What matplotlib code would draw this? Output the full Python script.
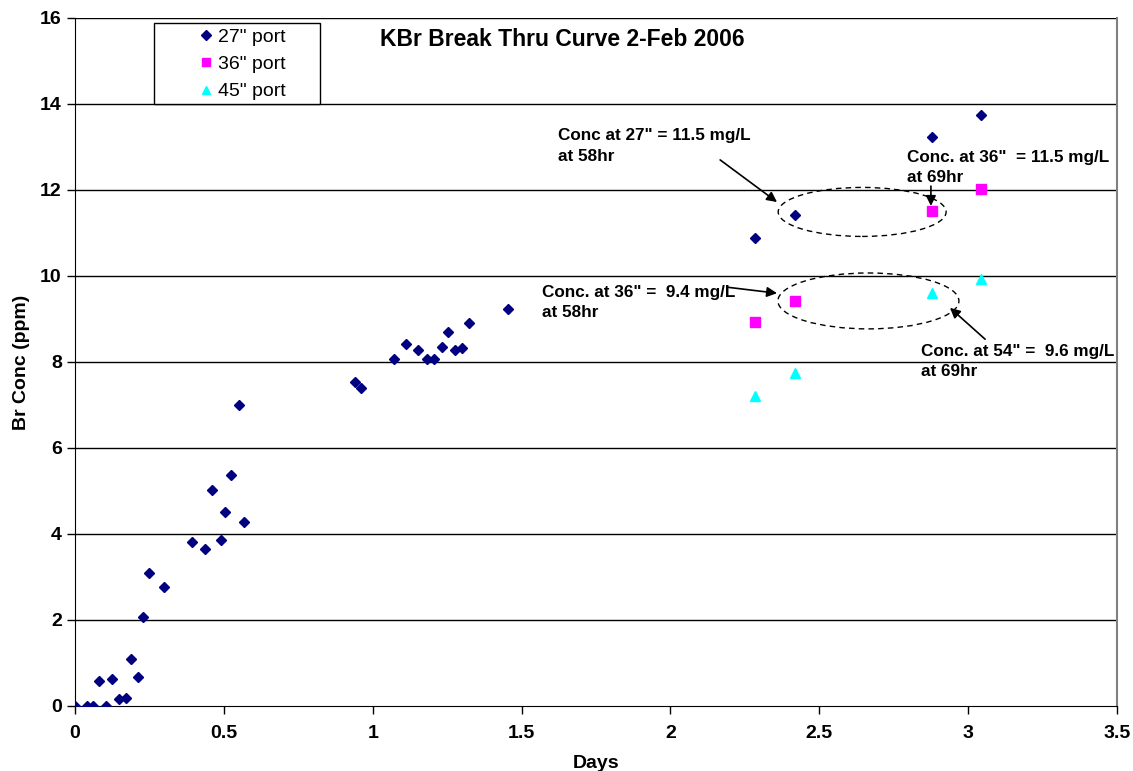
import matplotlib
matplotlib.use("Agg")
import matplotlib.pyplot as plt
from matplotlib.patches import Ellipse, Rectangle

plt.rcParams['font.family'] = ['Liberation Sans', 'DejaVu Sans']

# 27" port
days_27 = [0.0, 0.039, 0.061, 0.082, 0.103, 0.125, 0.147, 0.172, 0.188, 0.21, 0.23,
           0.249, 0.30, 0.394, 0.438, 0.46, 0.489, 0.503, 0.524, 0.551, 0.569,
           0.939, 0.959, 1.073, 1.113, 1.153, 1.181, 1.207, 1.234, 1.254, 1.276,
           1.301, 1.322, 1.455, 2.285, 2.42, 2.879, 3.043]
conc_27 = [0.0, 0.0, 0.0, 0.57, 0.0, 0.62, 0.17, 0.18, 1.10, 0.67, 2.08,
           3.10, 2.77, 3.82, 3.66, 5.02, 3.86, 4.51, 5.38, 7.0, 4.29,
           7.54, 7.40, 8.08, 8.42, 8.29, 8.06, 8.08, 8.36, 8.69, 8.28,
           8.33, 8.91, 9.23, 10.88, 11.43, 13.24, 13.74]
# 36" port
days_36 = [2.285, 2.42, 2.879, 3.043]
conc_36 = [8.92, 9.42, 11.50, 12.02]
# 45" port
days_45 = [2.285, 2.42, 2.879, 3.043]
conc_45 = [7.22, 7.74, 9.61, 9.94]

series_labels = ['27" port', '36" port', '45" port']
x_ticks = [0, 0.5, 1, 1.5, 2, 2.5, 3, 3.5]
x_ticklabels = ['0', '0.5', '1', '1.5', '2', '2.5', '3', '3.5']
y_ticks = [0, 2, 4, 6, 8, 10, 12, 14, 16]

fig = plt.figure(figsize=(11.33, 7.71), dpi=100)
ax = fig.add_axes([75/1133, 1-706/771, (1117-75)/1133, (706-18)/771])

for y in y_ticks[1:]:
    ax.axhline(y, color='black', lw=1, zorder=1)

ax.plot(days_27, conc_27, linestyle='none', marker='D', markersize=5.5,
        color='#000080', label=series_labels[0], zorder=3)
ax.plot(days_36, conc_36, linestyle='none', marker='s', markersize=6.5,
        color='#FF00FF', label=series_labels[1], zorder=3)
ax.plot(days_45, conc_45, linestyle='none', marker='^', markersize=7,
        color='#00FFFF', label=series_labels[2], zorder=3)

ax.set_xlim(0, 3.5)
ax.set_ylim(0, 16)
ax.set_xticks(x_ticks)
ax.set_xticklabels(x_ticklabels)
ax.set_yticks(y_ticks)
ax.tick_params(axis='both', direction='out', length=6, width=1, color='black',
               labelsize=14)
ax.tick_params(axis='x', pad=8)
for lab in ax.get_xticklabels() + ax.get_yticklabels():
    lab.set_fontweight('bold')
ax.spines['left'].set_color('black')
ax.spines['bottom'].set_color('black')
ax.spines['top'].set_visible(False)
ax.spines['right'].set_color('#808080')
ax.spines['right'].set_linewidth(1.5)

ax.set_xlabel('Days', fontsize=14, fontweight='bold', labelpad=9)
ax.set_ylabel('Br Conc (ppm)', fontsize=14, fontweight='bold', labelpad=7)

ax.text(0.468, 0.969, 'KBr Break Thru Curve 2-Feb 2006', transform=ax.transAxes,
        ha='center', va='center', fontsize=16.5, fontweight='bold')

# legend with a fixed-size frame
bx0, by0 = (154-75)/1042, (706-104)/688
bw, bh = 166/1042, 81/688
ax.add_patch(Rectangle((bx0, by0), bw, bh, transform=ax.transAxes, fill=True,
                       fc='white', ec='black', lw=1, zorder=4))
leg = ax.legend(loc='center', bbox_to_anchor=(bx0 + bw/2 + 0.004, by0 + bh/2 - 0.001),
                fontsize=14, frameon=False, handletextpad=0.1, borderpad=0,
                labelspacing=0.5, handlelength=1.0, markerscale=0.85,
                borderaxespad=0)
leg.set_zorder(5)

# dashed ellipses
ax.add_patch(Ellipse((2.644, 11.49), 0.564, 1.14, fill=False, ls=(0, (4, 3)),
                     lw=1, ec='black', zorder=2))
ax.add_patch(Ellipse((2.665, 9.42), 0.608, 1.30, fill=False, ls=(0, (4, 3)),
                     lw=1, ec='black', zorder=2))

tkw = dict(fontsize=12.3, fontweight='bold', va='center', ha='left', linespacing=1.45)
ax.text(1.622, 13.02, 'Conc at 27" = 11.5 mg/L\nat 58hr', **tkw)
ax.text(2.795, 12.53, 'Conc. at 36"  = 11.5 mg/L\nat 69hr', **tkw)
ax.text(1.569, 9.38, 'Conc. at 36" =  9.4 mg/L\nat 58hr', **tkw)
ax.text(2.842, 8.01, 'Conc. at 54" =  9.6 mg/L\nat 69hr', **tkw)

akw = dict(arrowstyle='-|>', color='black', lw=1.2, mutation_scale=15,
           shrinkA=0, shrinkB=0)
ax.annotate('', xy=(2.358, 11.72), xytext=(2.167, 12.70), arrowprops=akw)
ax.annotate('', xy=(2.875, 11.63), xytext=(2.875, 12.09), arrowprops=akw)
ax.annotate('', xy=(2.358, 9.60), xytext=(2.19, 9.74), arrowprops=akw)
ax.annotate('', xy=(2.939, 9.26), xytext=(3.057, 8.53), arrowprops=akw)

fig.savefig('out.png', dpi=100)
